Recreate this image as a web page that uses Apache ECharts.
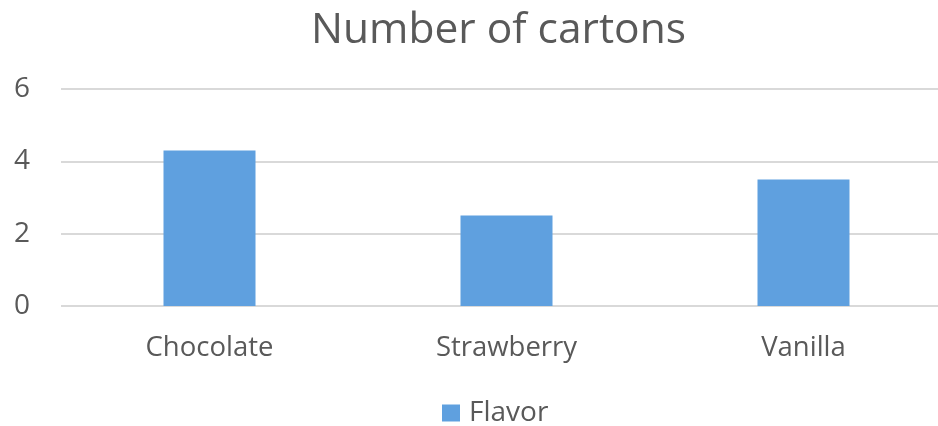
<!DOCTYPE html>
<html>
<head>
<meta charset="utf-8">
<script src="https://cdn.jsdelivr.net/npm/echarts@6/dist/echarts.min.js"></script>
<style>
  html, body { margin: 0; padding: 0; background: #fff; }
  #chart { width: 938px; height: 426px; }
</style>
</head>
<body>
<div id="chart"></div>
<script>
// Cartons counted per ice-cream flavor
const categories = ['Chocolate', 'Strawberry', 'Vanilla'];
const flavorValues = [4.3, 2.5, 3.5];
const yTicks = [0, 2, 4, 6];

const textColor = '#595959';
const fontFamily = '"Open Sans", "Noto Sans", sans-serif';

const chart = echarts.init(document.getElementById('chart'));
chart.setOption({
  animation: false,
  title: {
    text: 'Number of cartons',
    left: 306,
    top: 4,
    textStyle: { color: textColor, fontSize: 42.5, fontWeight: 'normal', fontFamily: fontFamily }
  },
  legend: {
    top: 394,
    left: 437,
    itemWidth: 18,
    itemHeight: 17,
    itemGap: 8,
    icon: 'rect',
    textStyle: { color: textColor, fontSize: 28, fontFamily: fontFamily, padding: [0, 0, 0, 4] },
    data: ['Flavor']
  },
  grid: { left: 61, top: 89, right: -14, height: 217, outerBoundsMode: 'none' },
  xAxis: {
    type: 'category',
    data: categories,
    axisLine: { show: false },
    axisTick: { show: false },
    axisLabel: { color: textColor, fontSize: 27.5, fontFamily: fontFamily, margin: 28 }
  },
  yAxis: {
    type: 'value',
    min: yTicks[0],
    max: yTicks[yTicks.length - 1],
    interval: 2,
    axisLine: { show: false },
    axisTick: { show: false },
    axisLabel: { color: textColor, fontSize: 28, fontFamily: fontFamily, margin: 31 },
    splitLine: { lineStyle: { color: '#d9d9d9', width: 2 } }
  },
  series: [{
    name: 'Flavor',
    type: 'bar',
    data: flavorValues,
    barWidth: 92,
    itemStyle: { color: '#5fa0df' }
  }]
});
</script>
</body>
</html>
